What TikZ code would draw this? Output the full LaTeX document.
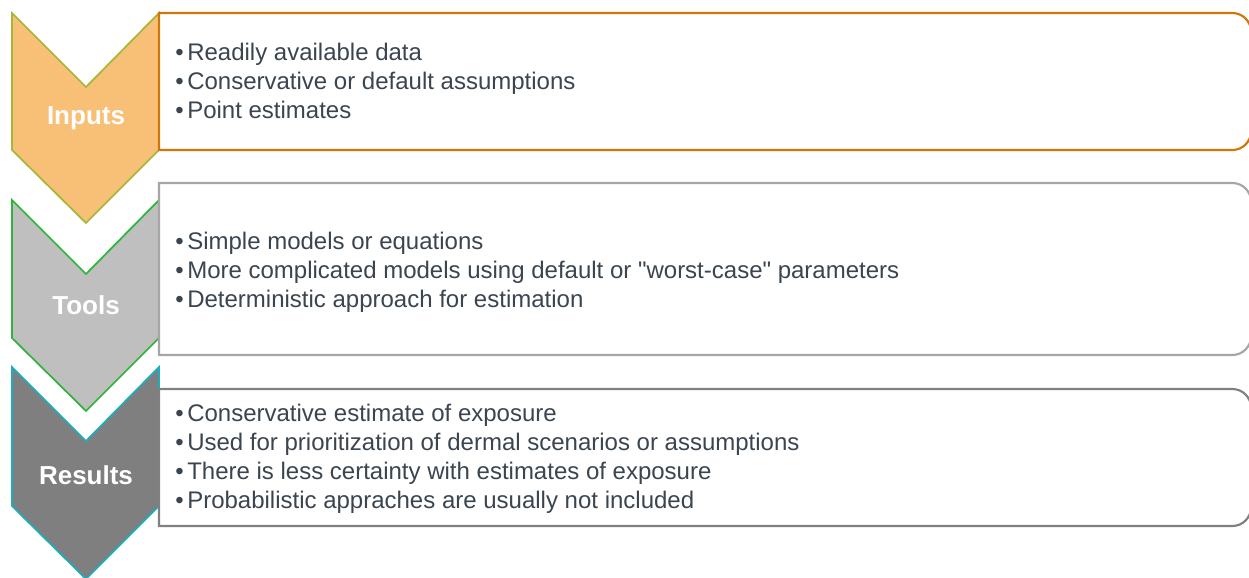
\documentclass[tikz,border=0pt]{standalone}
\usepackage{fontspec}
\setmainfont{Liberation Sans}[Ligatures=TeXOff]
\definecolor{inFill}{HTML}{F8BF77}
\definecolor{inEdge}{HTML}{A3B83A}
\definecolor{inBox}{HTML}{D2760C}
\definecolor{toFill}{HTML}{BFBFBF}
\definecolor{toEdge}{HTML}{2DB53A}
\definecolor{toBox}{HTML}{A6A6A6}
\definecolor{reFill}{HTML}{7F7F7F}
\definecolor{reEdge}{HTML}{1BAFBD}
\definecolor{reBox}{HTML}{808080}
\definecolor{txt}{HTML}{3B4550}
\tikzset{
  chev/.style={line width=1.3pt, line join=miter},
  panel/.style={line width=1.6pt, fill=white},
  label/.style={font=\fontsize{19.5}{23}\selectfont\bfseries, text=white, inner sep=0pt},
  item/.style={font=\fontsize{18}{21.6}\selectfont, text=txt, anchor=base west, inner sep=0pt},
  dot/.style={font=\fontsize{18}{21.6}\selectfont, text=txt, anchor=base west, inner sep=0pt},
}
% chevron: top y, lower-side y, fill, edge colour
\newcommand{\chevron}[4]{%
  \draw[chev, fill=#3, draw=#4] (12,#1) -- (86,#1+74) -- (159,#1) -- (159,#2) -- (86,#2+73) -- (12,#2) -- cycle;}
\begin{document}
\begin{tikzpicture}[x=0.75pt, y=-0.75pt]
\useasboundingbox (0,0) rectangle (1249,578);
\begin{scope}
\clip (0,0) rectangle (1249,578);
% chevrons
\chevron{13}{150}{inFill}{inEdge}
\chevron{200}{338}{toFill}{toEdge}
\chevron{367}{506}{reFill}{reEdge}
% panels, rounded on the right only
\draw[panel, draw=inBox] (159,13) [rounded corners=14] -- (1251,13) -- (1251,150) [sharp corners] -- (159,150) -- cycle;
\draw[panel, draw=toBox] (159,183) [rounded corners=14] -- (1251,183) -- (1251,355) [sharp corners] -- (159,355) -- cycle;
\draw[panel, draw=reBox] (159,389) [rounded corners=14] -- (1251,389) -- (1251,526) [sharp corners] -- (159,526) -- cycle;
\end{scope}
% chevron labels
\node[label] (lin) at (86,118) {Inputs};
\node[label] (lto) at (86,305) {Tools};
\node[label] (lre) at (86,475) {Results};
% Inputs items
\node[dot] (b11) at (175,60) {•};
\node[item] (t11) at (187,60) {Readily available data};
\node[dot] (b12) at (175,89) {•};
\node[item] (t12) at (187,89) {Conservative or default assumptions};
\node[dot] (b13) at (175,118) {•};
\node[item] (t13) at (187,118) {Point estimates};
% Tools items
\node[dot] (b21) at (175,249) {•};
\node[item] (t21) at (187,249) {Simple models or equations};
\node[dot] (b22) at (175,278) {•};
\node[item] (t22) at (187,278) {More complicated models using default or "worst-case" parameters};
\node[dot] (b23) at (175,307) {•};
\node[item] (t23) at (187,307) {Deterministic approach for estimation};
% Results items
\node[dot] (b31) at (175,421) {•};
\node[item] (t31) at (187,421) {Conservative estimate of exposure};
\node[dot] (b32) at (175,450) {•};
\node[item] (t32) at (187,450) {Used for prioritization of dermal scenarios or assumptions};
\node[dot] (b33) at (175,479) {•};
\node[item] (t33) at (187,479) {There is less certainty with estimates of exposure};
\node[dot] (b34) at (175,508) {•};
\node[item] (t34) at (187,508) {Probabilistic appraches are usually not included};
\end{tikzpicture}
\end{document}
